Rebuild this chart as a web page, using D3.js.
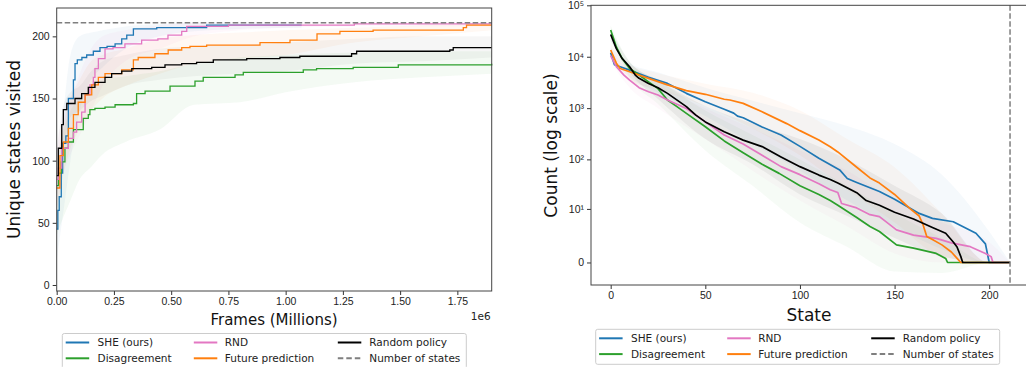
<!DOCTYPE html>
<html>
<head>
<meta charset="utf-8">
<script src="https://cdn.jsdelivr.net/npm/d3@7"></script>
<style>
  body { margin: 0; background: #fff; }
  svg { display: block; font-family: 'DejaVu Sans', sans-serif; }
  .tick text { fill: #222; font-size: 10.5px; }
  .tick line { stroke: #333; }
</style>
</head>
<body>
<div id="chart"></div>
<script>
// ---- left panel: unique states visited over frames (millions)
const sheFrames = [0, 0.005, 0.011, 0.02, 0.026, 0.04, 0.051, 0.073, 0.08, 0.09, 0.11, 0.131, 0.16, 0.189, 0.22, 0.255, 0.284, 0.306, 0.335, 0.437, 0.655, 1.07];
const sheVisited = [45, 60, 71, 90, 114, 120, 150, 165, 178, 181, 183, 185, 188, 191, 192, 194, 198, 201, 206, 207, 209, 209];
const disFrames = [0, 0.008, 0.02, 0.036, 0.051, 0.073, 0.116, 0.138, 0.145, 0.167, 0.211, 0.255, 0.335, 0.349, 0.386, 0.495, 0.604, 0.64, 0.779, 0.815, 1.077, 1.135, 1.295, 1.492, 1.9];
const disVisited = [80, 90, 99, 110, 115, 125, 134, 137, 141, 142, 143, 145, 146, 154, 156, 160, 164, 167, 169, 171, 173, 174, 175, 177, 178];
const rndFrames = [0, 0.007, 0.022, 0.051, 0.073, 0.087, 0.109, 0.124, 0.145, 0.16, 0.167, 0.182, 0.211, 0.246, 0.298, 0.371, 0.442, 0.486, 0.546, 0.568, 0.75, 1.3, 1.9];
const rndVisited = [85, 94, 110, 118, 123, 131, 139, 153, 161, 167, 174, 182, 190, 191, 194, 197, 198, 201, 204, 208, 209, 210, 210];
const futFrames = [0, 0.014, 0.029, 0.051, 0.073, 0.094, 0.124, 0.153, 0.182, 0.211, 0.284, 0.335, 0.356, 0.429, 0.487, 0.546, 0.582, 0.655, 0.888, 1.019, 1.137, 1.237, 1.382, 1.776, 1.79, 1.9];
const futVisited = [78, 104, 115, 126, 137, 147, 153, 161, 167, 170, 173, 181, 183, 186, 189, 191, 192, 193, 195, 197, 202, 204, 205, 207, 209, 209];
const rndPolFrames = [0, 0.007, 0.022, 0.029, 0.044, 0.08, 0.109, 0.138, 0.167, 0.211, 0.24, 0.284, 0.328, 0.415, 0.473, 0.546, 0.611, 0.684, 0.83, 0.975, 1.062, 1.288, 1.31, 1.717, 1.732, 1.9];
const rndPolVisited = [88, 110, 129, 141, 146, 150, 154, 159, 163, 167, 170, 172, 174, 175, 177, 178, 179, 181, 182, 183, 184, 186, 188, 189, 191, 191];

// shaded spread (lower / upper) on a coarse frame grid
const bandFrames = [0, 0.03, 0.06, 0.1, 0.15, 0.2, 0.3, 0.45, 0.6, 0.8, 1.0, 1.3, 1.6, 1.9];
const sheBandFrames = [0, 0.03, 0.06, 0.1, 0.15, 0.2, 0.3, 0.45, 0.6, 0.8, 1.07];
const sheLow = [20, 60, 100, 140, 165, 175, 190, 200, 204, 206, 207];
const sheHigh = [80, 140, 185, 200, 203, 205, 208, 210, 211, 211, 211];
const disLow = [40, 55, 68, 85, 95, 105, 115, 125, 145, 147, 155, 163, 167, 170];
const disHigh = [100, 125, 140, 150, 160, 165, 168, 172, 178, 183, 185, 187, 188, 188];
const rndLow = [60, 90, 105, 120, 140, 160, 180, 190, 200, 205, 207, 208, 208, 208];
const rndHigh = [110, 140, 150, 170, 190, 200, 205, 209, 211, 211, 211, 211, 211, 211];
const futLow = [60, 90, 110, 125, 140, 150, 160, 170, 178, 182, 185, 195, 200, 205];
const futHigh = [100, 130, 150, 165, 180, 185, 190, 198, 201, 203, 205, 207, 209, 210];
const rndPolLow = [70, 110, 135, 140, 148, 152, 160, 165, 168, 170, 172, 178, 180, 183];
const rndPolHigh = [110, 145, 155, 160, 172, 180, 185, 190, 192, 193, 195, 198, 200, 200];

const numStates = 211;
const frameTicks = [0, 0.25, 0.5, 0.75, 1.0, 1.25, 1.5, 1.75];
const visitedTicks = [0, 50, 100, 150, 200];

// ---- right panel: visit count per state (sorted), symlog
const sheStates = [0, 2, 5, 10, 20, 30, 40, 50, 60, 65, 67, 70, 80, 90, 100, 110, 121, 125, 130, 142, 150, 163, 170, 181, 193, 198, 200, 211];
const sheCounts = [12000, 7000, 6400, 5500, 4000, 3030, 1940, 1330, 950, 800, 700, 650, 430, 300, 180, 105, 62, 42, 35, 23, 16, 8, 6.2, 5.2, 2.7, 1.3, 0, 0];
const disStates = [0, 3, 6, 10, 15, 20, 25, 30, 35, 40, 50, 60, 70, 80, 89, 100, 110, 116, 120, 130, 137, 142, 151, 160, 172, 177, 178, 211];
const disCounts = [33000, 15500, 9300, 5900, 4400, 3250, 2400, 1440, 1070, 790, 435, 230, 135, 80, 53, 30, 20, 15, 12, 6.5, 4.0, 3.0, 1.2, 0.9, 0.5, 0.2, 0, 0];
const rndStates = [0, 3, 7, 10, 15, 20, 25, 30, 40, 50, 60, 70, 80, 90, 100, 110, 116, 120, 122, 130, 137, 142, 151, 160, 172, 180, 190, 198, 201, 202, 211];
const rndCounts = [10500, 6400, 4400, 3500, 2500, 2080, 1800, 1440, 985, 540, 300, 200, 120, 72, 50, 33, 25, 22, 13, 10.5, 7.5, 6.8, 3.3, 2.4, 1.95, 1.4, 1.03, 0.5, 0.3, 0, 0];
const futStates = [0, 3, 5, 10, 20, 30, 40, 50, 60, 63, 70, 80, 93, 100, 110, 116, 120, 130, 137, 142, 150, 158, 163, 165, 167, 170, 175, 180, 184, 185, 211];
const futCounts = [13500, 7500, 5900, 5100, 3800, 2830, 2190, 1860, 1490, 1440, 1240, 850, 500, 365, 240, 177, 140, 70, 43, 34, 20, 10.3, 7, 4.5, 2.2, 1.8, 1.2, 0.6, 0.1, 0, 0];
const rndPolStates = [0, 3, 6, 10, 13, 15, 20, 25, 30, 40, 45, 50, 60, 70, 80, 90, 100, 110, 116, 120, 130, 135, 142, 150, 160, 170, 177, 181, 183, 185, 186, 211];
const rndPolCounts = [27000, 14400, 9300, 6400, 4400, 3800, 3030, 2500, 1940, 1070, 730, 540, 347, 238, 178, 112, 72, 49, 40, 34, 21.8, 15, 12, 8.5, 6, 3.8, 2.7, 1.5, 1.0, 0.3, 0, 0];

const bandStates = [0, 10, 25, 50, 75, 100, 125, 150, 175, 200, 211];
const sheCountLow = [9000, 4000, 2000, 700, 200, 60, 15, 4, 0.8, 0, 0];
const sheCountHigh = [15000, 7500, 5000, 2500, 1400, 800, 450, 200, 50, 3, 0];
const disCountLow = [25000, 4000, 1200, 150, 30, 5, 1, -0.5, -0.6, 0, 0];
const disCountHigh = [40000, 8000, 3500, 900, 300, 100, 30, 8, 2, 0, 0];
const rndCountLow = [8000, 2500, 1000, 250, 60, 15, 4, 0.5, 0, 0, 0];
const rndCountHigh = [14000, 5000, 2800, 1000, 400, 150, 60, 15, 5, 1.5, 0];
const futCountLow = [9000, 3500, 2300, 1100, 400, 120, 25, 5, 0.3, 0, 0];
const futCountHigh = [18000, 7000, 4800, 3000, 2000, 900, 250, 70, 8, 0, 0];
const rndPolCountLow = [20000, 5000, 1500, 250, 80, 20, 7, 2, 0.3, 0, 0];
const rndPolCountHigh = [33000, 8000, 3500, 1100, 500, 250, 100, 30, 8, 0, 0];

const stateTicks = [0, 50, 100, 150, 200];
const countTicks = [0, 10, 100, 1000, 10000, 100000];

const legendNames = ['SHE (ours)', 'Disagreement', 'RND', 'Future prediction', 'Random policy', 'Number of states'];
const colors = {
    she: '#1f77b4', dis: '#2ca02c', rnd: '#e377c2', fut: '#ff7f0e', pol: '#000000', num: '#7f7f7f'
};

const zip = (xs, ys) => xs.map((x, i) => ({ x, y: ys[i] }));
const zipBand = (xs, lo, hi) => xs.map((x, i) => ({ x, lo: lo[i], hi: hi[i] }));

const svg = d3.select('#chart').append('svg')
    .attr('width', 1026)
    .attr('height', 367);

svg.append('rect').attr('width', 1026).attr('height', 367).attr('fill', '#fff');

function drawLeft() {
    const x = d3.scaleLinear().domain([0, 1.9]).range([56.7, 491.7]);
    const y = d3.scaleLinear().domain([-4.83, 222.8]).range([291, 8]);
    const g = svg.append('g');

    const series = [
        { c: colors.she, d: zip(sheFrames, sheVisited), b: zipBand(sheBandFrames, sheLow, sheHigh) },
        { c: colors.dis, d: zip(disFrames, disVisited), b: zipBand(bandFrames, disLow, disHigh) },
        { c: colors.rnd, d: zip(rndFrames, rndVisited), b: zipBand(bandFrames, rndLow, rndHigh) },
        { c: colors.fut, d: zip(futFrames, futVisited), b: zipBand(bandFrames, futLow, futHigh) },
        { c: colors.pol, d: zip(rndPolFrames, rndPolVisited), b: zipBand(bandFrames, rndPolLow, rndPolHigh) }
    ];

    const area = d3.area().curve(d3.curveMonotoneX)
        .x(d => x(d.x)).y0(d => y(d.lo)).y1(d => y(d.hi));
    const line = d3.line().curve(d3.curveStepAfter)
        .x(d => x(d.x)).y(d => y(d.y));

    series.forEach(s => {
        g.append('path').attr('d', area(s.b))
            .attr('fill', s.c).attr('fill-opacity', s.c === '#000000' ? 0.035 : 0.05);
    });
    series.forEach(s => {
        g.append('path').attr('d', line(s.d))
            .attr('fill', 'none').attr('stroke', s.c).attr('stroke-width', 1.3);
    });

    // number of states
    g.append('line')
        .attr('x1', x(0)).attr('x2', x(1.9))
        .attr('y1', y(numStates)).attr('y2', y(numStates))
        .attr('stroke', colors.num).attr('stroke-width', 1.5)
        .attr('stroke-dasharray', '5.5,2.5');

    g.append('g').attr('transform', 'translate(0,291)')
        .call(d3.axisBottom(x).tickValues(frameTicks).tickFormat(d3.format('.2f')).tickSize(4).tickPadding(3))
        .call(a => a.select('.domain').remove());
    g.append('g').attr('transform', 'translate(56.7,0)')
        .call(d3.axisLeft(y).tickValues(visitedTicks).tickSize(4).tickPadding(3))
        .call(a => a.select('.domain').remove());

    g.append('rect').attr('x', 56.7).attr('y', 8).attr('width', 435).attr('height', 283)
        .attr('fill', 'none').attr('stroke', '#444').attr('stroke-width', 1);

    g.append('text').attr('x', 490.7).attr('y', 320).attr('text-anchor', 'end')
        .attr('font-size', 10.5).attr('fill', '#222').text('1e6');
    g.append('text').attr('x', 274).attr('y', 325).attr('text-anchor', 'middle')
        .attr('font-size', 15).attr('fill', '#111').text('Frames (Millions)');
    g.append('text').attr('transform', 'translate(20,149.5) rotate(-90)')
        .attr('text-anchor', 'middle').attr('font-size', 17).attr('fill', '#111')
        .text('Unique states visited');
}

function drawRight() {
    const x = d3.scaleLinear().domain([-10.4, 221.55]).range([591, 1030]);
    const y = d3.scaleSymlog().constant(1).domain([-1.74, 1e5]).range([285, 5.3]);
    const g = svg.append('g');

    const series = [
        { c: colors.she, d: zip(sheStates, sheCounts), b: zipBand(bandStates, sheCountLow, sheCountHigh) },
        { c: colors.dis, d: zip(disStates, disCounts), b: zipBand(bandStates, disCountLow, disCountHigh) },
        { c: colors.rnd, d: zip(rndStates, rndCounts), b: zipBand(bandStates, rndCountLow, rndCountHigh) },
        { c: colors.fut, d: zip(futStates, futCounts), b: zipBand(bandStates, futCountLow, futCountHigh) },
        { c: colors.pol, d: zip(rndPolStates, rndPolCounts), b: zipBand(bandStates, rndPolCountLow, rndPolCountHigh) }
    ];

    const area = d3.area().curve(d3.curveMonotoneX)
        .x(d => x(d.x)).y0(d => y(d.lo)).y1(d => y(d.hi));
    const line = d3.line()
        .x(d => x(d.x)).y(d => y(d.y));

    series.forEach(s => {
        g.append('path').attr('d', area(s.b))
            .attr('fill', s.c).attr('fill-opacity', s.c === '#000000' ? 0.05 : 0.045);
    });
    series.forEach(s => {
        g.append('path').attr('d', line(s.d))
            .attr('fill', 'none').attr('stroke', s.c).attr('stroke-width', 1.7)
            .attr('stroke-linejoin', 'round');
    });

    g.append('line')
        .attr('x1', x(numStates)).attr('x2', x(numStates))
        .attr('y1', 5.3).attr('y2', 285)
        .attr('stroke', colors.num).attr('stroke-width', 1.5)
        .attr('stroke-dasharray', '5.5,2.5');

    const sup = ['\u2070', '\u00b9', '\u00b2', '\u00b3', '\u2074', '\u2075'];
    g.append('g').attr('transform', 'translate(0,285)')
        .call(d3.axisBottom(x).tickValues(stateTicks).tickSize(4).tickPadding(3))
        .call(a => a.select('.domain').remove());
    g.append('g').attr('transform', 'translate(591,0)')
        .call(d3.axisLeft(y).tickValues(countTicks)
            .tickFormat(d => d === 0 ? '0' : '10' + sup[Math.round(Math.log10(d))])
            .tickSize(4).tickPadding(3))
        .call(a => a.select('.domain').remove());

    g.append('rect').attr('x', 591).attr('y', 5.3).attr('width', 439).attr('height', 279.7)
        .attr('fill', 'none').attr('stroke', '#444').attr('stroke-width', 1);

    g.append('text').attr('x', 809).attr('y', 321).attr('text-anchor', 'middle')
        .attr('font-size', 17).attr('fill', '#111').text('State');
    g.append('text').attr('transform', 'translate(557,145.5) rotate(-90)')
        .attr('text-anchor', 'middle').attr('font-size', 17).attr('fill', '#111')
        .text('Count (log scale)');
}

function drawLegend(left, top) {
    const g = svg.append('g').attr('transform', `translate(${left},${top})`);
    g.append('rect').attr('x', 0).attr('y', 0).attr('width', 404).attr('height', 35)
        .attr('rx', 2).attr('fill', '#fff').attr('stroke', '#ccc').attr('stroke-width', 1);
    const cols = [{ h: 3.4, t: 35.3 }, { h: 131.5, t: 162.5 }, { h: 275.5, t: 307 }];
    const rows = [9, 24.8];
    const keys = ['she', 'dis', 'rnd', 'fut', 'pol', 'num'];
    keys.forEach((k, i) => {
        const c = cols[Math.floor(i / 2)], r = rows[i % 2];
        g.append('line').attr('x1', c.h).attr('x2', c.h + 23.5).attr('y1', r).attr('y2', r)
            .attr('stroke', colors[k]).attr('stroke-width', 2)
            .attr('stroke-dasharray', k === 'num' ? '5.5,3' : null);
        g.append('text').attr('x', c.t).attr('y', r).attr('dy', '0.35em')
            .attr('font-size', 10.5).attr('fill', '#222').text(legendNames[i]);
    });
}

drawLeft();
drawRight();
drawLegend(62.3, 333.5);
drawLegend(595.7, 329.3);
</script>
</body>
</html>
